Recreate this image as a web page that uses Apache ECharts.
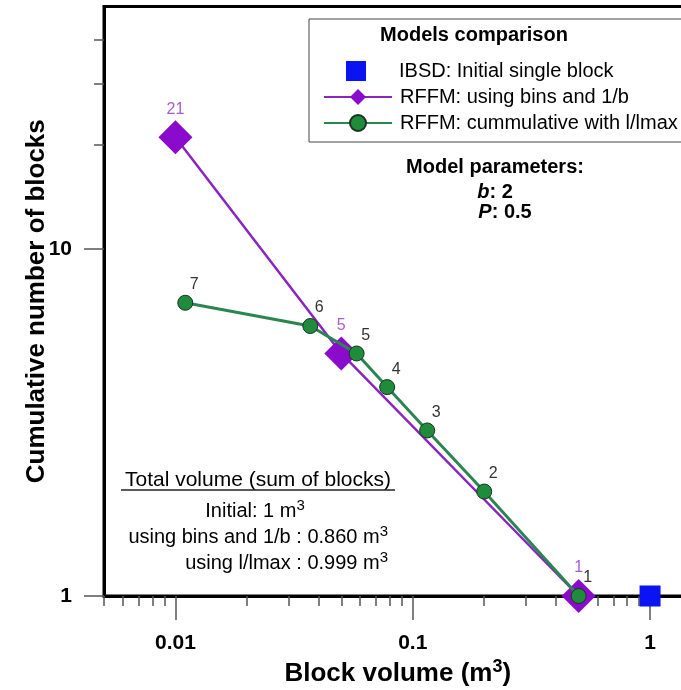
<!DOCTYPE html>
<html>
<head>
<meta charset="utf-8">
<script src="https://cdn.jsdelivr.net/npm/echarts@6/dist/echarts.min.js"></script>
<style>
  html, body { margin: 0; padding: 0; background: #ffffff; }
  #chart { width: 681px; height: 690px; }
</style>
</head>
<body>
<div id="chart"></div>
<script>
// Initial single block (IBSD)
const ibsdVolume = [1];
const ibsdCount = [1];
// RFFM using bins and 1/b
const binsVolume = [0.01, 0.05, 0.5];
const binsCount = [21, 5, 1];
// RFFM cumulative with l/lmax
const lmaxVolume = [0.011, 0.037, 0.058, 0.078, 0.115, 0.2, 0.5];
const lmaxCount = [7, 6, 5, 4, 3, 2, 1];

// Axis ticks
const xMajorTicks = [0.01, 0.1, 1];
const xMinorTicks = [0.005, 0.006, 0.007, 0.008, 0.009,
  0.02, 0.03, 0.04, 0.05, 0.06, 0.07, 0.08, 0.09,
  0.2, 0.3, 0.4, 0.5, 0.6, 0.7, 0.8, 0.9, 2];
const yMajorTicks = [1, 10];
const yMinorTicks = [20, 30, 40];

const xRange = [0.005, 2];
const yRange = [1, 50];

const NAME_IBSD = 'IBSD: Initial single block';
const NAME_BINS = 'RFFM: using bins and 1/b';
const NAME_LMAX = 'RFFM: cummulative with l/lmax';

const FONT = '"Liberation Sans", Arial, Helvetica, sans-serif';

const pairs = (xs, ys) => xs.map((x, i) => [x, ys[i]]);
const fmt = v => String(+(+v).toPrecision(6));

const chart = echarts.init(document.getElementById('chart'), null, { renderer: 'canvas' });

const legendText = { fontSize: 20, color: '#000', fontFamily: FONT };
const supStyle = { fontSize: 15, fontFamily: FONT, fill: '#000', padding: [0, 0, 11, 0] };

chart.setOption({
  animation: false,
  backgroundColor: '#ffffff',
  textStyle: { fontFamily: FONT },
  grid: {
    left: 104, top: 6.5, right: -40.5, bottom: 94,
    show: true, borderColor: '#000', borderWidth: 3,
    containLabel: false, outerBoundsMode: 'none'
  },
  legend: [
    {
      // square marker entry
      orient: 'vertical', left: 346, top: 61, padding: 0,
      itemWidth: 20, itemHeight: 20,
      textStyle: Object.assign({ padding: [0, 0, 0, 28] }, legendText),
      data: [NAME_IBSD]
    },
    {
      // line entries
      orient: 'vertical', left: 323, top: 87, padding: 0,
      itemWidth: 68, itemHeight: 20, itemGap: 6,
      textStyle: Object.assign({ padding: [0, 0, 0, 3] }, legendText),
      data: [NAME_BINS, NAME_LMAX]
    }
  ],
  xAxis: [
    {
      type: 'log', logBase: 10, min: xRange[0], max: xRange[1], position: 'bottom',
      name: 'Block volume (m{sup|3})',
      nameLocation: 'middle', nameGap: 62, nameMoveOverlap: false,
      nameTextStyle: {
        fontSize: 26, fontWeight: 'bold', color: '#000', fontFamily: FONT,
        padding: [0, 30, 0, 0],
        rich: { sup: { fontSize: 18, fontFamily: FONT, fontWeight: 'bold', color: '#000', padding: [0, 0, 14, 0] } }
      },
      axisLine: { show: true, lineStyle: { color: '#000', width: 3 } },
      axisTick: { show: true, customValues: xMajorTicks, length: 24, lineStyle: { color: '#555', width: 1.5 } },
      axisLabel: {
        customValues: xMajorTicks, formatter: fmt, margin: 37,
        fontSize: 21, fontWeight: 'bold', color: '#000', fontFamily: FONT
      },
      splitLine: { show: false },
      minorTick: { show: false }
    },
    {
      type: 'log', logBase: 10, min: xRange[0], max: xRange[1], position: 'bottom',
      axisLine: { show: false },
      axisTick: { show: true, customValues: xMinorTicks, length: 10, lineStyle: { color: '#555', width: 1.5 } },
      axisLabel: { show: false },
      splitLine: { show: false }
    }
  ],
  yAxis: [
    {
      type: 'log', logBase: 10, min: yRange[0], max: yRange[1], position: 'left',
      name: 'Cumulative number of blocks',
      nameLocation: 'middle', nameGap: 54, nameMoveOverlap: false,
      nameTextStyle: { fontSize: 26, fontWeight: 'bold', color: '#000', fontFamily: FONT },
      axisLine: { show: true, lineStyle: { color: '#000', width: 3 } },
      axisTick: { show: true, customValues: yMajorTicks, length: 20, lineStyle: { color: '#555', width: 1.5 } },
      axisLabel: {
        customValues: yMajorTicks, formatter: fmt, margin: 32,
        fontSize: 21, fontWeight: 'bold', color: '#000', fontFamily: FONT
      },
      splitLine: { show: false },
      minorTick: { show: false }
    },
    {
      type: 'log', logBase: 10, min: yRange[0], max: yRange[1], position: 'left',
      axisLine: { show: false },
      axisTick: { show: true, customValues: yMinorTicks, length: 10, lineStyle: { color: '#555', width: 1.5 } },
      axisLabel: { show: false },
      splitLine: { show: false }
    }
  ],
  series: [
    {
      name: NAME_BINS,
      type: 'line',
      data: pairs(binsVolume, binsCount),
      symbol: 'diamond', symbolSize: 34,
      itemStyle: { color: '#8a0bcc' },
      lineStyle: { color: '#8a25c2', width: 2.5 },
      label: {
        show: true, position: 'top', distance: 3,
        formatter: p => p.value[1],
        fontSize: 16, color: '#a45ed0', fontFamily: FONT
      },
      z: 3
    },
    {
      name: NAME_LMAX,
      type: 'line',
      data: pairs(lmaxVolume, lmaxCount),
      symbol: 'circle', symbolSize: 15,
      itemStyle: { color: '#1f8c3b', borderColor: '#1b3320', borderWidth: 1 },
      lineStyle: { color: '#2a8650', width: 3 },
      label: {
        show: true, position: 'top', offset: [9, 3],
        formatter: p => p.value[1],
        fontSize: 16, color: '#333', fontFamily: FONT
      },
      z: 4
    },
    {
      name: NAME_IBSD,
      type: 'scatter',
      data: pairs(ibsdVolume, ibsdCount),
      symbol: 'rect', symbolSize: 21,
      itemStyle: { color: '#0a14f2', opacity: 1 },
      z: 5
    }
  ],
  graphic: [
    // legend frame and heading
    {
      type: 'rect', z: 1,
      shape: { x: 309, y: 19, width: 420, height: 123 },
      style: { fill: '#fff', stroke: '#444', lineWidth: 1 }
    },
    {
      type: 'text', z: 10, x: 474, y: 35,
      style: { text: 'Models comparison', font: 'bold 20px ' + FONT, fill: '#000', align: 'center', verticalAlign: 'middle' }
    },
    // model parameters
    {
      type: 'text', z: 10, x: 495, y: 167,
      style: { text: 'Model parameters:', font: 'bold 20px ' + FONT, fill: '#000', align: 'center', verticalAlign: 'middle' }
    },
    {
      type: 'text', z: 10, x: 495, y: 192,
      style: {
        text: '{i|b}: 2', font: 'bold 20px ' + FONT, fill: '#000', align: 'center', verticalAlign: 'middle',
        rich: { i: { fontStyle: 'italic', fontWeight: 'bold', fontSize: 20, fontFamily: FONT, fill: '#000' } }
      }
    },
    {
      type: 'text', z: 10, x: 505, y: 212,
      style: {
        text: '{i|P}: 0.5', font: 'bold 20px ' + FONT, fill: '#000', align: 'center', verticalAlign: 'middle',
        rich: { i: { fontStyle: 'italic', fontWeight: 'bold', fontSize: 20, fontFamily: FONT, fill: '#000' } }
      }
    },
    // total volume summary
    {
      type: 'text', z: 10, x: 258, y: 480,
      style: { text: 'Total volume (sum of blocks)', font: '21px ' + FONT, fill: '#000', align: 'center', verticalAlign: 'middle' }
    },
    {
      type: 'line', z: 10,
      shape: { x1: 121, y1: 490, x2: 395, y2: 490 },
      style: { stroke: '#222', lineWidth: 1.5 }
    },
    {
      type: 'text', z: 10, x: 255, y: 511,
      style: {
        text: 'Initial: 1 m{s|3}', font: '20px ' + FONT, fill: '#000', align: 'center', verticalAlign: 'middle',
        rich: { s: supStyle }
      }
    },
    {
      type: 'text', z: 10, x: 388, y: 537,
      style: {
        text: 'using bins and 1/b : 0.860 m{s|3}', font: '20px ' + FONT, fill: '#000', align: 'right', verticalAlign: 'middle',
        rich: { s: supStyle }
      }
    },
    {
      type: 'text', z: 10, x: 388, y: 563,
      style: {
        text: 'using l/lmax : 0.999 m{s|3}', font: '20px ' + FONT, fill: '#000', align: 'right', verticalAlign: 'middle',
        rich: { s: supStyle }
      }
    }
  ]
});
</script>
</body>
</html>
